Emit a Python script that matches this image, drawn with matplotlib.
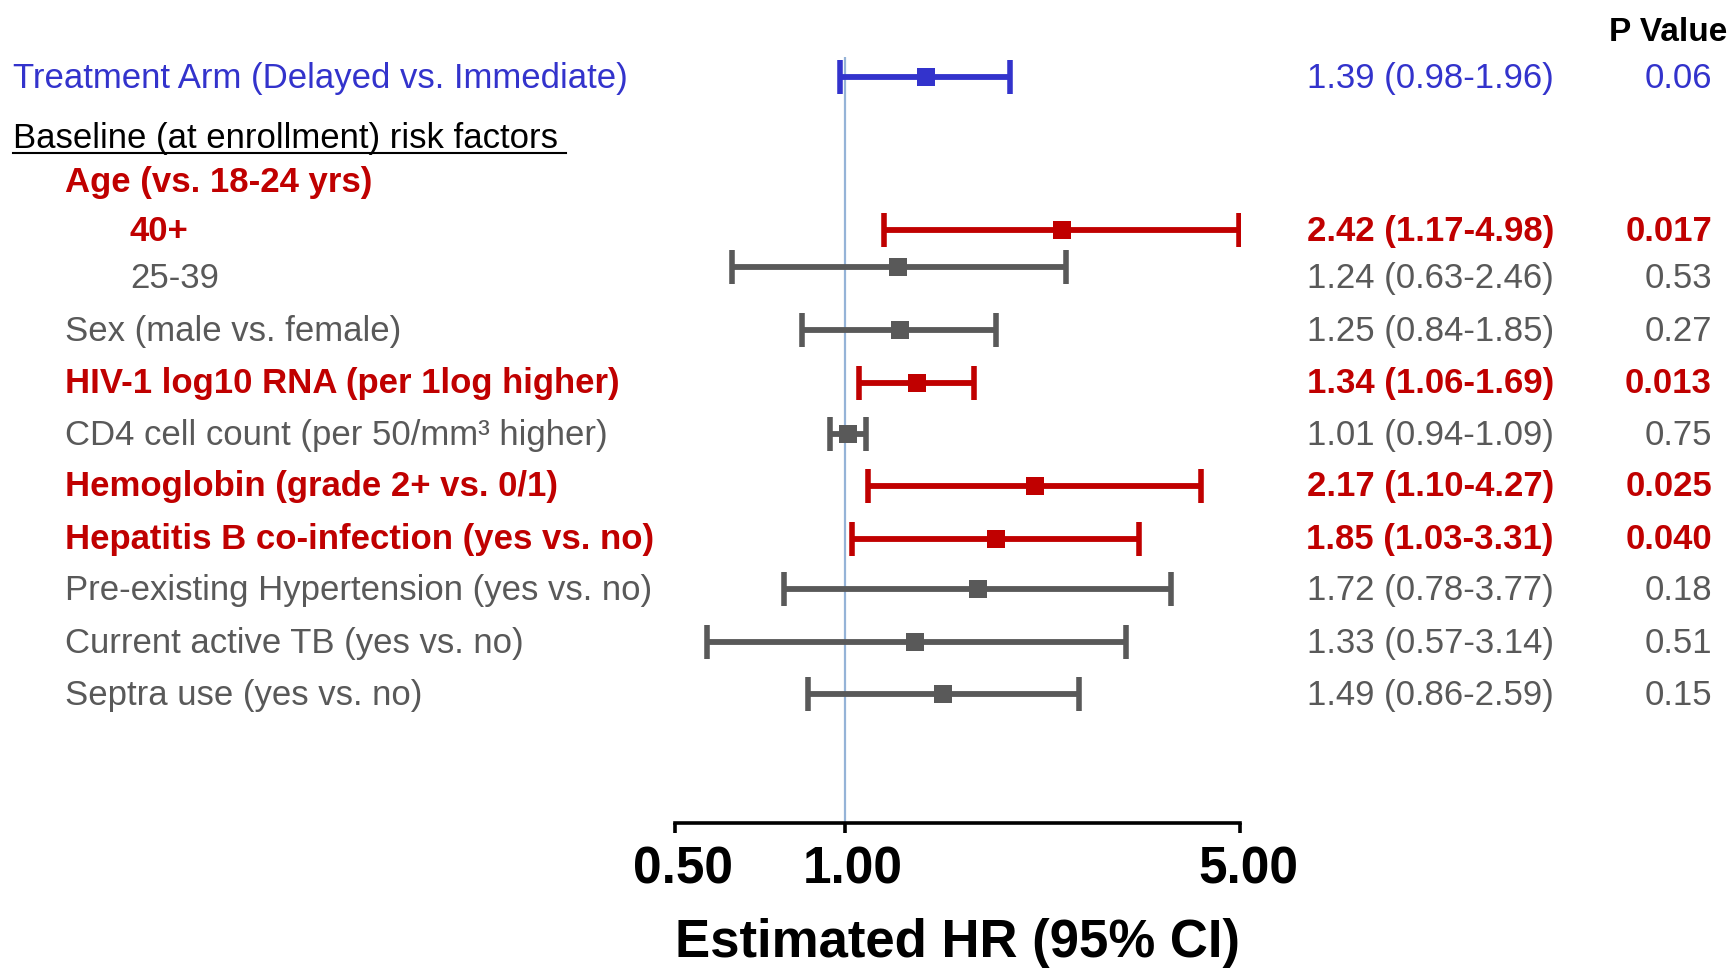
import numpy as np
import matplotlib.pyplot as plt
from matplotlib.transforms import ScaledTranslation

plt.rcParams['font.family'] = ['Liberation Sans', 'DejaVu Sans']

# ─── 1) data ─────────────────────────────────────────────
labels = [
    'Treatment Arm (Delayed vs. Immediate)',
    'Baseline (at enrollment) risk factors ',
    'Age (vs. 18-24 yrs)',
    '40+',
    '25-39',
    'Sex (male vs. female)',
    'HIV-1 log10 RNA (per 1log higher)',
    'CD4 cell count (per 50/mm\u00b3 higher)',
    'Hemoglobin (grade 2+ vs. 0/1)',
    'Hepatitis B co-infection (yes vs. no)',
    'Pre-existing Hypertension (yes vs. no)',
    'Current active TB (yes vs. no)',
    'Septra use (yes vs. no)',
]
hr = [1.39, np.nan, np.nan, 2.42, 1.24, 1.25, 1.34, 1.01, 2.17, 1.85, 1.72, 1.33, 1.49]
lo = [0.98, np.nan, np.nan, 1.17, 0.63, 0.84, 1.06, 0.94, 1.10, 1.03, 0.78, 0.57, 0.86]
hi = [1.96, np.nan, np.nan, 4.98, 2.46, 1.85, 1.69, 1.09, 4.27, 3.31, 3.77, 3.14, 2.59]
pvals = ['0.06', '', '', '0.017', '0.53', '0.27', '0.013', '0.75',
         '0.025', '0.040', '0.18', '0.51', '0.15']
kind = ['trt', 'head', 'sig', 'sig', 'ns', 'ns', 'sig', 'ns',
        'sig', 'sig', 'ns', 'ns', 'ns']
xticks = [0.5, 1.0, 5.0]
xtick_labels = ['0.50', '1.00', '5.00']

# ─── 2) layout (pixel units, from top) ──────────────────
W, H = 1732, 968
indent = [13, 13, 65, 130, 130, 65, 65, 65, 65, 65, 65, 65, 65]
row_y = [77, 136, 180, 230, 267, 330, 383, 434, 486, 539, 589, 642, 694]
text_y = [88, 148, 192, 241, 288, 341, 393, 445, 496, 549, 600, 653, 705]
ax_left, ax_right, ax_bottom = 675, 1240, 823

colors = {'trt': '#3333CC', 'head': 'black', 'sig': '#C00000', 'ns': '#595959'}
weights = {'trt': 'normal', 'head': 'normal', 'sig': 'bold', 'ns': 'normal'}
fs = 25

fig = plt.figure(figsize=(W / 100, H / 100), dpi=100)

# text layer over whole figure
tax = fig.add_axes([0, 0, 1, 1])
tax.set_xlim(0, W)
tax.set_ylim(H, 0)
tax.axis('off')

# forest axis
ax = fig.add_axes([ax_left / W, (H - ax_bottom) / H,
                   (ax_right - ax_left) / W, ax_bottom / H])
ax.patch.set_alpha(0)
ax.set_xscale('log')
ax.set_xlim(0.5, 5)
ax.set_ylim(ax_bottom, 0)
for s in ['top', 'left', 'right']:
    ax.spines[s].set_visible(False)
ax.spines['bottom'].set_linewidth(2.6)
ax.set_yticks([])
ax.minorticks_off()
ax.set_xticks(xticks)
ax.set_xticklabels(xtick_labels, fontsize=37, fontweight='bold')
ax.tick_params(axis='x', direction='out', length=7.5, width=2.6, pad=8.5)
ax.set_xlabel('Estimated HR (95% CI)', fontsize=38, fontweight='bold', labelpad=17)

for lab in ax.get_xticklabels():
    lab.set_transform(lab.get_transform() + ScaledTranslation(0.08, 0, fig.dpi_scale_trans))

# reference line at HR = 1
ax.vlines(1.0, 57, ax_bottom, color='#95B3D7', lw=1.6, zorder=1)

for i in range(len(labels)):
    c = colors[kind[i]]
    w = weights[kind[i]]
    tax.text(indent[i], text_y[i], labels[i], color=c, fontsize=fs,
             fontweight=w, ha='left', va='baseline')
    if np.isnan(hr[i]):
        continue
    ax.errorbar(hr[i], row_y[i],
                xerr=[[hr[i] - lo[i]], [hi[i] - hr[i]]],
                fmt='none', ecolor=c,
                elinewidth=4.2, capsize=12.5, capthick=4, zorder=3)
    ax.plot(hr[i], row_y[i], 's', ms=12.5, mew=0, color=c, zorder=4)
    tax.text(1554, text_y[i], f'{hr[i]:.2f} ({lo[i]:.2f}-{hi[i]:.2f})',
             color=c, fontsize=fs, fontweight=w, ha='right', va='baseline')
    tax.text(1712, text_y[i], pvals[i], color=c, fontsize=fs,
             fontweight=w, ha='right', va='baseline')

# underline for the section header
tax.plot([13, 566], [153, 153], color='black', lw=1.5)

tax.text(1727, 41, 'P Value', fontsize=24, fontweight='bold',
         ha='right', va='baseline')

plt.savefig('out.png', dpi=100)
